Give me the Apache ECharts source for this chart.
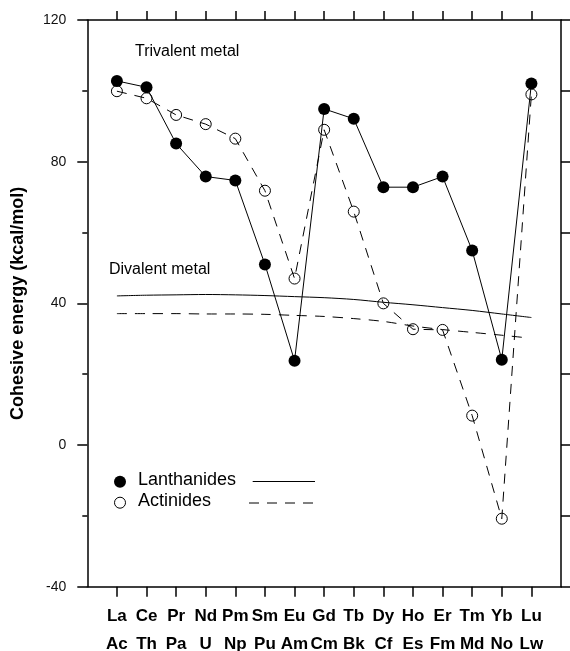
<!DOCTYPE html>
<html>
<head>
<meta charset="utf-8">
<script src="https://cdn.jsdelivr.net/npm/echarts@6/dist/echarts.min.js"></script>
<style>
html,body{margin:0;padding:0;background:#fff;}
#chart{width:570px;height:651px;}
</style>
</head>
<body>
<div id="chart"></div>
<script>
const elementsLn = ['La','Ce','Pr','Nd','Pm','Sm','Eu','Gd','Tb','Dy','Ho','Er','Tm','Yb','Lu'];
const elementsAn = ['Ac','Th','Pa','U','Np','Pu','Am','Cm','Bk','Cf','Es','Fm','Md','No','Lw'];
const lanthanides = [102.8,101.0,85.1,75.8,74.7,51.0,23.8,94.9,92.1,72.8,72.8,75.8,54.9,24.1,102.1];
const actinides = [99.9,97.9,93.2,90.6,86.5,71.8,47.0,89.0,65.9,40.0,32.7,32.5,8.3,-20.8,99.0];
const divalentLnPos = [1,2,3,4,5,6,7,8,9,10,11,12,13,14,15];
const divalentLn = [42.1,42.3,42.4,42.5,42.4,42.2,41.9,41.6,41.1,40.3,39.6,38.8,38.0,37.0,36.0];
const divalentAnPos = [1,2,3,4,5,6,7,8,9,10,11,12,13,14,14.7];
const divalentAn = [37.1,37.1,37.1,37.0,37.0,36.9,36.6,36.3,35.7,34.9,33.6,32.6,31.8,31.0,30.4];
const yTicks = [-40,0,40,80,120];

const positions = elementsLn.map((_, i) => i + 1);
const chart = echarts.init(document.getElementById('chart'), null, {renderer:'canvas'});
const FONT = 'Liberation Sans, Arial, sans-serif';

const option = {
  backgroundColor: '#fff',
  animation: false,
  grid: {left: 87.3, right: 9, top: 20, bottom: 64.3, containLabel: false, outerBoundsMode: 'none'},
  xAxis: [{
    type: 'value', min: 0, max: 16, position: 'bottom',
    axisLine: {show: true, onZero: false, lineStyle: {color: '#000', width: 1.5}},
    axisTick: {show: true, inside: false, length: 10, customValues: positions, lineStyle: {color: '#000', width: 1.5}},
    axisLabel: {
      show: true, margin: 16, customValues: positions,
      formatter: v => { const i = Math.round(v) - 1; return elementsLn[i] + '\n' + elementsAn[i]; },
      fontFamily: FONT, fontWeight: 'bold', fontSize: 17, lineHeight: 28, color: '#000'
    },
    splitLine: {show: false}
  }, {
    type: 'value', min: 0, max: 16, position: 'top',
    axisLine: {show: true, onZero: false, lineStyle: {color: '#000', width: 1.5}},
    axisTick: {show: true, inside: false, length: 9, customValues: positions, lineStyle: {color: '#000', width: 1.5}},
    axisLabel: {show: false},
    splitLine: {show: false}
  }],
  yAxis: [{
    type: 'value', min: yTicks[0], max: yTicks[yTicks.length-1], interval: 40, position: 'left',
    name: 'Cohesive energy (kcal/mol)', nameLocation: 'middle', nameGap: 60,
    nameTextStyle: {fontFamily: FONT, fontWeight: 'bold', fontSize: 18, color: '#000'},
    axisLine: {show: true, onZero: false, lineStyle: {color: '#000', width: 1.5}},
    axisTick: {show: true, inside: false, length: 10, lineStyle: {color: '#000', width: 1.5}},
    minorTick: {show: true, splitNumber: 2, length: 5, lineStyle: {color: '#000', width: 1.5}},
    axisLabel: {margin: 21, fontFamily: FONT, fontSize: 14, color: '#111'},
    splitLine: {show: false}
  }, {
    type: 'value', min: yTicks[0], max: yTicks[yTicks.length-1], interval: 20, position: 'right',
    axisLine: {show: true, onZero: false, lineStyle: {color: '#000', width: 1.5}},
    axisTick: {show: true, inside: false, length: 9, lineStyle: {color: '#000', width: 1.5}},
    axisLabel: {show: false},
    splitLine: {show: false}
  }],
  series: [
    {
      name: 'Divalent Ln', type: 'line', xAxisIndex: 0, yAxisIndex: 0,
      data: divalentLn.map((v, i) => [divalentLnPos[i], v]),
      smooth: 0.3, showSymbol: false, symbol: 'none',
      lineStyle: {color: '#000', width: 1}, z: 2
    },
    {
      name: 'Divalent An', type: 'line', xAxisIndex: 0, yAxisIndex: 0,
      data: divalentAn.map((v, i) => [divalentAnPos[i], v]),
      smooth: 0.3, showSymbol: false, symbol: 'none',
      lineStyle: {color: '#000', width: 1, type: [10, 8]}, z: 2
    },
    {
      name: 'Actinides', type: 'line', xAxisIndex: 0, yAxisIndex: 0,
      data: actinides.map((v, i) => [i + 1, v]),
      symbol: 'circle', symbolSize: 11,
      itemStyle: {color: 'rgba(255,255,255,0)', borderColor: '#000', borderWidth: 1},
      lineStyle: {color: '#000', width: 1, type: [10, 8]}, z: 3
    },
    {
      name: 'Lanthanides', type: 'line', xAxisIndex: 0, yAxisIndex: 0,
      data: lanthanides.map((v, i) => [i + 1, v]),
      symbol: 'circle', symbolSize: 12,
      itemStyle: {color: '#000', borderColor: '#000', borderWidth: 0},
      lineStyle: {color: '#000', width: 1}, z: 4
    }
  ],
  graphic: [
    {type: 'text', left: 135, top: 44, style: {text: 'Trivalent metal', font: '16px ' + FONT, fill: '#000'}},
    {type: 'text', left: 109, top: 262, style: {text: 'Divalent metal', font: '16px ' + FONT, fill: '#000'}},
    {type: 'circle', shape: {cx: 120, cy: 481.7, r: 6}, style: {fill: '#000'}},
    {type: 'text', left: 138, top: 471.5, style: {text: 'Lanthanides', font: '18px ' + FONT, fill: '#000'}},
    {type: 'line', shape: {x1: 252.7, y1: 481.5, x2: 315, y2: 481.5}, style: {stroke: '#000', lineWidth: 1}},
    {type: 'circle', shape: {cx: 120, cy: 502.7, r: 5.5}, style: {fill: 'none', stroke: '#000', lineWidth: 1}},
    {type: 'text', left: 138, top: 492.5, style: {text: 'Actinides', font: '18px ' + FONT, fill: '#000'}},
    {type: 'line', shape: {x1: 249, y1: 503, x2: 315, y2: 503}, style: {stroke: '#000', lineWidth: 1, lineDash: [10, 8]}}
  ]
};
chart.setOption(option);
</script>
</body>
</html>
